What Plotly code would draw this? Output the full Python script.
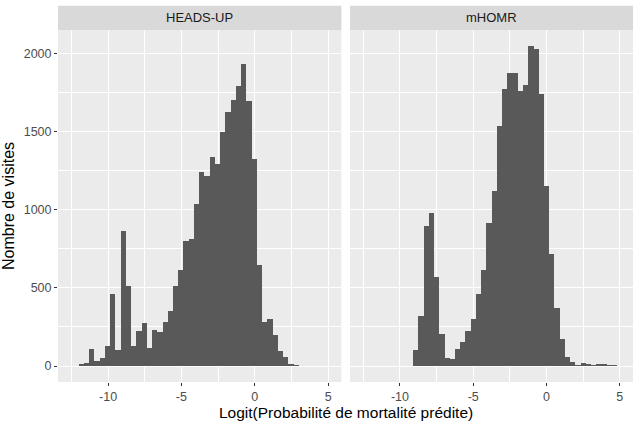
import plotly.graph_objects as go

# ---- data ----
panels = ["HEADS-UP", "mHOMR"]
bin_width = 0.357
heads_start = -12.0
heads_counts = [9, 21, 111, 30, 51, 126, 460, 105, 862, 515, 126, 222, 274, 118,
                229, 218, 282, 353, 511, 618, 798, 811, 1037, 1243, 1217, 1341,
                1292, 1497, 1630, 1705, 1795, 1936, 1696, 1328, 646, 280, 302,
                201, 96, 58, 15, 6]
mhomr_start = -9.10
mhomr_counts = [105, 321, 896, 982, 571, 205, 51, 47, 111, 154, 222, 299, 464,
                618, 918, 1121, 1538, 1773, 1876, 1880, 1763, 1799, 2051, 2030,
                1743, 1155, 717, 372, 171, 58, 28, 4, 17, 9, 6, 13, 13, 6, 4]
x_ticks = [-10, -5, 0, 5]
x_ticklabels = ["-10", "-5", "0", "5"]
y_ticks = [0, 500, 1000, 1500, 2000]
y_ticklabels = ["0", "500", "1000", "1500", "2000"]
x_title = "Logit(Probabilité de mortalité prédite)"
y_title = "Nombre de visites"

# ---- figure ----
W, H = 636, 427
ml, mr, mt, mb = 58, 3, 30, 45
pw = W - ml - mr
ph = H - mt - mb
FONT = "Liberation Sans, Arial, sans-serif"
BAR = "#595959"
TICKFONT = dict(family=FONT, size=12.5, color="#4D4D4D")

def centers(start, n):
    return [start + bin_width * (i + 0.5) for i in range(n)]

fig = go.Figure()
fig.add_trace(go.Bar(x=centers(heads_start, len(heads_counts)), y=heads_counts,
                     width=bin_width, marker=dict(color=BAR, line=dict(width=0)),
                     xaxis="x", yaxis="y", showlegend=False, hoverinfo="x+y"))
fig.add_trace(go.Bar(x=centers(mhomr_start, len(mhomr_counts)), y=mhomr_counts,
                     width=bin_width, marker=dict(color=BAR, line=dict(width=0)),
                     xaxis="x2", yaxis="y2", showlegend=False, hoverinfo="x+y"))

left_dom = [0, 283.4 / pw]
right_dom = [(350 - ml) / pw, 1]
xrange = [-13.41, 5.90]
yrange = [-102.5, 2153]

xcommon = dict(range=xrange, tickvals=x_ticks, ticktext=x_ticklabels,
               showgrid=True, gridcolor="white", gridwidth=1.1, zeroline=False,
               ticks="outside", ticklen=3, tickwidth=1, tickcolor="#333333",
               tickfont=TICKFONT,
               minor=dict(dtick=2.5, tick0=-12.5, showgrid=True, gridcolor="white",
                          gridwidth=0.5, ticks=""),
               showline=False, fixedrange=True)
ycommon = dict(range=yrange, tickvals=y_ticks, ticktext=y_ticklabels,
               showgrid=True, gridcolor="white", gridwidth=1.1, zeroline=False,
               minor=dict(dtick=250, tick0=250, showgrid=True, gridcolor="white",
                          gridwidth=0.5, ticks=""),
               showline=False, fixedrange=True)

fig.update_layout(
    width=W, height=H,
    margin=dict(l=ml, r=mr, t=mt, b=mb, pad=0),
    paper_bgcolor="white", plot_bgcolor="#EBEBEB",
    bargap=0,
    xaxis=dict(domain=left_dom, anchor="y", **xcommon),
    xaxis2=dict(domain=right_dom, anchor="y2", **xcommon),
    yaxis=dict(domain=[0, 1], anchor="x", ticks="outside", ticklen=3, tickwidth=1,
               tickcolor="#333333", tickfont=TICKFONT, **ycommon),
    yaxis2=dict(domain=[0, 1], anchor="x2", matches="y", showticklabels=False,
                ticks="", **ycommon),
    font=dict(family=FONT),
)

# strips above each panel
strip_h = 24.3 / ph
for dom, label in zip([left_dom, right_dom], panels):
    fig.add_shape(type="rect", xref="paper", yref="paper",
                  x0=dom[0], x1=dom[1], y0=1, y1=1 + strip_h,
                  fillcolor="#D9D9D9", line=dict(width=0), layer="below")
    fig.add_annotation(x=(dom[0] + dom[1]) / 2, y=1 + strip_h / 2,
                       xref="paper", yref="paper", text=label, showarrow=False,
                       xanchor="center", yanchor="middle",
                       font=dict(family=FONT, size=13, color="#1A1A1A"))

fig.add_annotation(x=(345.5 - ml) / pw, y=-(412.5 - (H - mb)) / ph,
                   xref="paper", yref="paper", text=x_title, showarrow=False,
                   xanchor="center", yanchor="middle",
                   font=dict(family=FONT, size=15.5, color="black"))
fig.add_annotation(x=(8 - ml) / pw, y=0.5,
                   xref="paper", yref="paper", text=y_title, showarrow=False,
                   textangle=-90, xanchor="center", yanchor="middle",
                   font=dict(family=FONT, size=16, color="black"))

fig.write_html("out.html", config={"displayModeBar": False})
